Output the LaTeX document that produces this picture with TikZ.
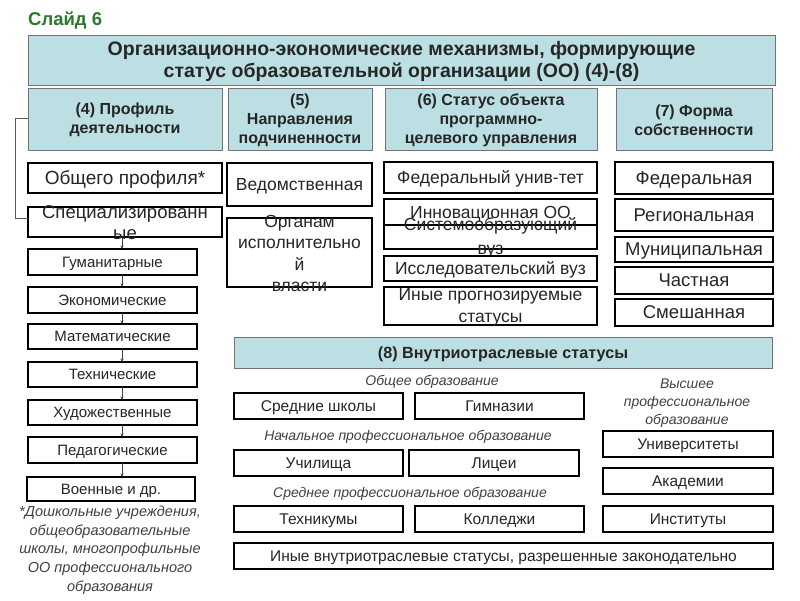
\documentclass[tikz,border=0pt]{standalone}
\usepackage{fontspec}
\setmainfont{Liberation Sans}
\usetikzlibrary{arrows.meta,calc}
\definecolor{tealc}{RGB}{188,223,227}
\definecolor{slgreen}{RGB}{46,120,46}
\newcommand\fs[2]{\fontsize{#1}{#2}\selectfont}
% single line box: style, name, x1, y1, x2, y2, font, text
\newcommand\bx[8]{%
  \node[#1, minimum width={(#5-#3)*1pt}, minimum height={(#6-#4)*1pt}] (#2) at (#3,#4) {};
  \node[txt, font=#7] (#2-t) at (#2.center) {\raisebox{0pt}[\height][0pt]{#8}};}
% multi line box
\newcommand\bxm[8]{%
  \node[#1, minimum width={(#5-#3)*1pt}, minimum height={(#6-#4)*1pt}] (#2) at (#3,#4) {};
  \node[txt, font=#7, yshift=-1pt] (#2-t) at (#2.center) {#8};}
\begin{document}
\begin{tikzpicture}[x=1pt,y=-1pt,
  wbox/.style={draw=black, line width=1.5pt, fill=white, inner sep=0pt, outer sep=0pt, anchor=north west},
  tbox/.style={draw=black!55, line width=1pt, fill=tealc, inner sep=0pt, outer sep=0pt, anchor=north west},
  txt/.style={inner sep=0pt, align=center, text=black!85},
  arr/.style={draw=black!75, line width=0.6pt, -{Stealth[length=3.5pt,width=3pt]}},
  brk/.style={draw=black!65, line width=0.8pt},
  lab/.style={inner sep=0pt, align=center, text=black!75, font=\itshape\fs{14}{18}}]

\useasboundingbox (0,0) rectangle (800,600);

\node[anchor=west, inner sep=0pt, font=\bfseries\fs{18.5}{20}, text=slgreen] (slide) at (28,20) {Слайд 6};

\bxm{tbox}{hdr}{28}{35}{775}{85}{\bfseries\fs{19.5}{22}}{Организационно-экономические механизмы, формирующие\\статус образовательной организации (ОО) (4)-(8)}

\bxm{tbox}{p4}{28}{88}{222}{150}{\bfseries\fs{16}{19}}{(4) Профиль\\деятельности}
\bxm{tbox}{p5}{228}{88}{372}{150}{\bfseries\fs{16}{19}}{(5)\\Направления\\подчиненности}
\bxm{tbox}{p6}{385}{88}{597}{150}{\bfseries\fs{16}{19}}{(6) Статус объекта\\программно-\\целевого управления}
\bxm{tbox}{p7}{616}{88}{772}{150}{\bfseries\fs{16}{19}}{(7) Форма\\собственности}

% column 4
\bx{wbox}{gen}{28}{163}{222}{193}{\fs{19}{22}}{Общего профиля*}
\bxm{wbox}{spec}{28}{207}{222}{237}{\fs{18.5}{21}}{Специализированн\\ые}
\bx{wbox}{gum}{28}{249}{197}{275}{\fs{15}{18}}{Гуманитарные}
\bx{wbox}{eco}{28}{287}{197}{313}{\fs{15}{18}}{Экономические}
\bx{wbox}{mat}{28}{324}{197}{349}{\fs{15}{18}}{Математические}
\bx{wbox}{teh}{28}{362}{197}{387}{\fs{15}{18}}{Технические}
\bx{wbox}{hud}{28}{400}{197}{425}{\fs{15}{18}}{Художественные}
\bx{wbox}{ped}{28}{437}{197}{463}{\fs{15}{18}}{Педагогические}
\bx{wbox}{voe}{27}{477}{195}{501}{\fs{15}{18}}{Военные и др.}

\foreach \a/\b in {spec/gum,gum/eco,eco/mat,mat/teh,teh/hud,hud/ped,ped/voe}
  \draw[arr] ([xshift=94pt]\a.south west) -- ([xshift=94pt]\a.south west |- \b.north);

\draw[brk] ([yshift=1pt]p4.west) -- ++(-13,0) |- ([yshift=4pt]spec.west);

\node[lab, font=\itshape\fs{14.5}{18.75}] (foot) at (110,550) {*Дошкольные учреждения,\\общеобразовательные\\школы, многопрофильные\\ОО профессионального\\образования};

% column 5
\bx{wbox}{ved}{227}{163}{372}{206}{\fs{17.5}{21}}{Ведомственная}
\bxm{wbox}{org}{227}{218}{372}{287}{\fs{17.5}{21.5}}{Органам\\исполнительно\\й\\власти}

% column 6
\bx{wbox}{fed}{384}{162}{597}{193}{\fs{17.5}{21}}{Федеральный унив-тет}
\bx{wbox}{inn}{384}{199}{597}{225}{\fs{17.5}{21}}{Инновационная ОО}
\bxm{wbox}{sys}{384}{225}{597}{249}{\fs{17.5}{24}}{Системообразующий\\вуз}
\bx{wbox}{res}{384}{256}{597}{281}{\fs{17.5}{21}}{Исследовательский вуз}
\bxm{wbox}{oth}{384}{287}{597}{325}{\fs{17.5}{22}}{Иные прогнозируемые\\статусы}

% column 7
\bx{wbox}{fa}{615}{162}{773}{194}{\fs{18.5}{21}}{Федеральная}
\bx{wbox}{fb}{615}{199}{773}{231}{\fs{18.5}{21}}{Региональная}
\bx{wbox}{fc}{615}{237}{773}{262}{\fs{18.5}{21}}{Муниципальная}
\bx{wbox}{fd}{615}{267}{773}{294}{\fs{18.5}{21}}{Частная}
\bx{wbox}{fe}{615}{299}{773}{326}{\fs{18.5}{21}}{Смешанная}

% section 8
\bx{tbox}{s8}{234}{337}{772}{368}{\bfseries\fs{16.2}{19}}{(8) Внутриотраслевые статусы}

\node[lab] (lg) at (432,382) {Общее образование};
\node[lab] (ln) at (408,437) {Начальное профессиональное образование};
\node[lab] (ls) at (410,494) {Среднее профессиональное образование};
\node[lab] (lh) at (687,403) {Высшее\\профессиональное\\образование};

\bx{wbox}{ssh}{234}{393}{403}{419}{\fs{15.5}{18}}{Средние школы}
\bx{wbox}{gym}{415}{393}{584}{419}{\fs{15.5}{18}}{Гимназии}
\bx{wbox}{uch}{234}{450}{403}{476}{\fs{15.5}{18}}{Училища}
\bx{wbox}{lic}{409}{450}{579}{476}{\fs{15.5}{18}}{Лицеи}
\bx{wbox}{tkm}{234}{506}{403}{532}{\fs{15.5}{18}}{Техникумы}
\bx{wbox}{col}{415}{506}{584}{532}{\fs{15.5}{18}}{Колледжи}
\bx{wbox}{uni}{603}{431}{773}{457}{\fs{15.5}{18}}{Университеты}
\bx{wbox}{aca}{603}{468}{773}{494}{\fs{15.5}{18}}{Академии}
\bx{wbox}{ins}{603}{506}{773}{532}{\fs{15.5}{18}}{Институты}
\bx{wbox}{oth8}{234}{543}{773}{569}{\fs{15.5}{18}}{Иные внутриотраслевые статусы, разрешенные законодательно}
\end{tikzpicture}
\end{document}
